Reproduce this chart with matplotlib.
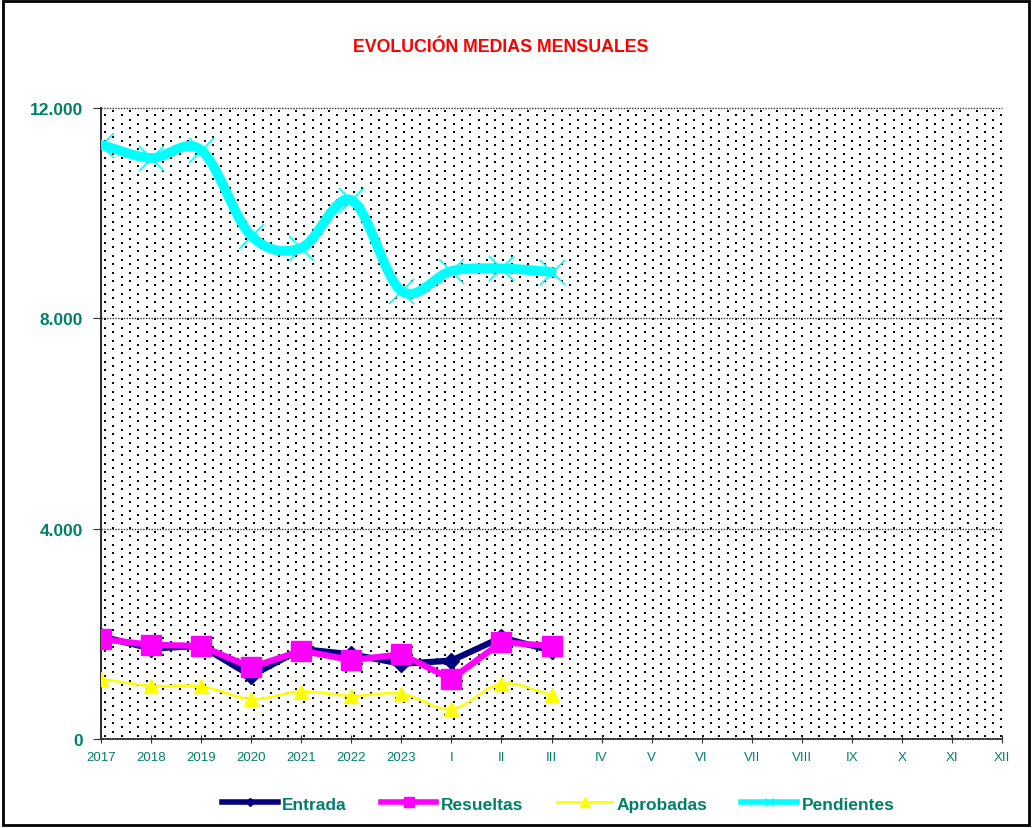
import matplotlib
matplotlib.use('Agg')
from matplotlib import pyplot as plt
from matplotlib.patches import Rectangle
from matplotlib.lines import Line2D
import numpy as np

# Categories and series values
categories = ['2017', '2018', '2019', '2020', '2021', '2022', '2023',
              'I', 'II', 'III', 'IV', 'V', 'VI', 'VII', 'VIII', 'IX', 'X', 'XI', 'XII']
entrada = [1950, 1720, 1770, 1200, 1710, 1610, 1430, 1490, 1930, 1680]
resueltas = [1900, 1790, 1770, 1360, 1680, 1500, 1610, 1140, 1840, 1770]
aprobadas = [1140, 1010, 1000, 760, 900, 820, 860, 570, 1050, 840]
pendientes = [11300, 11050, 11200, 9570, 9340, 10250, 8520, 8900, 8950, 8880]
yticks = [0, 4000, 8000, 12000]
ytick_labels = ['0', '4.000', '8.000', '12.000']

green = '#00806A'


def smooth(xs, ys, n=20):
    # Catmull-Rom curve through the points, similar to Excel's smoothed lines
    xs = np.asarray(xs, float)
    ys = np.asarray(ys, float)
    px = np.concatenate([[2 * xs[0] - xs[1]], xs, [2 * xs[-1] - xs[-2]]])
    py = np.concatenate([[2 * ys[0] - ys[1]], ys, [2 * ys[-1] - ys[-2]]])
    outx, outy = [], []
    t = np.linspace(0, 1, n)
    for i in range(1, len(px) - 2):
        for p, out in ((px, outx), (py, outy)):
            p0, p1, p2, p3 = p[i - 1], p[i], p[i + 1], p[i + 2]
            out.extend(0.5 * ((2 * p1) + (-p0 + p2) * t
                              + (2 * p0 - 5 * p1 + 4 * p2 - p3) * t ** 2
                              + (-p0 + 3 * p1 - 3 * p2 + p3) * t ** 3))
    return outx, outy


fig = plt.figure(figsize=(10.32, 8.29), dpi=100)
ax = fig.add_axes([0.0979, 0.1074, 0.8730, 0.7611])

# dotted background texture (staggered dots)
axw, axh = 0.8730 * 1032, 0.7611 * 829
gx, gy = np.meshgrid(np.arange(4, axw, 16.6), np.arange(3, axh, 8.5))
ax.plot(gx.ravel() / axw, gy.ravel() / axh, ls='none', marker='s', ms=1.7, mew=0,
        color='black', transform=ax.transAxes, zorder=0)
ax.plot((gx.ravel() + 8.3) / axw, (gy.ravel() + 4.25) / axh, ls='none', marker='s',
        ms=1.7, mew=0, color='black', transform=ax.transAxes, zorder=0)

x = np.arange(len(entrada))

ax.plot(x, entrada, color='#000080', lw=4.5, marker='D', ms=8, zorder=3)
ax.plot(x, resueltas, color='#FF00FF', lw=4.5, marker='s', ms=14, zorder=4)
sx, sy = smooth(x, aprobadas)
ax.plot(sx, sy, color='#FFFF00', lw=1.8, zorder=3)
ax.plot(x, aprobadas, ls='none', color='#FFFF00', marker='^', ms=10, zorder=3)
sx, sy = smooth(x, pendientes)
ax.plot(sx, sy, color='#00FFFF', lw=7, zorder=3)
ax.plot(x, pendientes, ls='none', color='#00FFFF', marker='x', ms=18, mew=1.2, zorder=3)

ax.set_xlim(0, len(categories) - 1)
ax.set_ylim(0, 12000)
ax.set_xticks(range(len(categories)))
ax.set_xticklabels(categories, color=green, fontsize=9.5, fontfamily='Liberation Sans')
ax.set_yticks(yticks)
ax.set_yticklabels(ytick_labels, color=green, fontsize=12.5, fontweight='bold',
                   fontfamily='Liberation Sans')
ax.tick_params(axis='x', direction='inout', length=6, color='#333333', pad=6)
ax.tick_params(axis='y', direction='out', length=6, color='#333333', pad=7)

for v in yticks[1:]:
    ax.axhline(v, color='#333333', lw=1.0, ls=(0, (1, 1)), zorder=1, clip_on=False)

ax.spines['right'].set_visible(False)
ax.spines['top'].set_visible(False)
ax.spines['left'].set_color('#333333')
ax.spines['left'].set_linewidth(1.5)
ax.spines['bottom'].set_color('#333333')
ax.spines['bottom'].set_linewidth(1.2)
ax.spines['bottom'].set_linestyle((0, (1, 0.5)))

fig.text(0.485, 0.943, 'EVOLUCIÓN MEDIAS MENSUALES', color='red', fontsize=12.8,
         fontweight='bold', ha='center', va='center', fontfamily='Liberation Sans')

handles = [
    Line2D([], [], color='#000080', lw=4, marker='D', ms=4),
    Line2D([], [], color='#FF00FF', lw=4, marker='s', ms=7),
    Line2D([], [], color='#FFFF00', lw=2, marker='^', ms=7),
    Line2D([], [], color='#00FFFF', lw=4, marker='x', ms=6),
]
leg = fig.legend(handles, ['Entrada', 'Resueltas', 'Aprobadas', 'Pendientes'],
                 loc='center', bbox_to_anchor=(0.541, 0.029), ncol=4, frameon=False,
                 handlelength=3.2, handletextpad=0.25, columnspacing=1.95,
                 prop={'family': 'Liberation Sans', 'weight': 'bold', 'size': 12.5})
for t in leg.get_texts():
    t.set_color(green)

# figure border
fig.patches.append(Rectangle((0.003, 0.004), 0.994, 0.993, transform=fig.transFigure,
                             fill=False, edgecolor='black', linewidth=2))

fig.savefig('out.png', dpi=100)
